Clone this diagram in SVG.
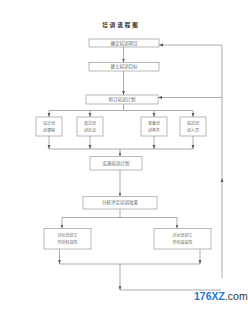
<svg xmlns="http://www.w3.org/2000/svg" width="248" height="316" viewBox="0 0 248 316">
<style>
.bx{fill:#fff;stroke:#9a9a9a;stroke-width:0.7}
.t{font-family:"Liberation Serif","Noto Sans CJK SC",serif;fill:#666;text-anchor:middle}
.s{font-size:4.5px}
.m{font-size:4px}
.ln{fill:none;stroke:#8a8a8a;stroke-width:0.7}
</style>
<defs>
<marker id="ah" markerUnits="userSpaceOnUse" markerWidth="4" markerHeight="4" viewBox="0 0 4 4" refX="4" refY="2" orient="auto">
<path d="M0,0.6 L4,2 L0,3.4 Z" fill="#555"/>
</marker>
</defs>
<rect width="248" height="316" fill="#fff"/>
<text x="121" y="26.5" font-family="Liberation Serif,'Noto Sans CJK SC',serif" font-size="5.5" font-weight="bold" fill="#222" text-anchor="middle" letter-spacing="2">培训流程图</text>
<g id="connectors">
<path class="ln" d="M123.5,47 V62.5" marker-end="url(#ah)"/>
<path class="ln" d="M123.5,71 V95" marker-end="url(#ah)"/>
<path class="ln" d="M123.5,104 V110.5 M49,110.5 H193"/>
<path class="ln" d="M49,110.5 V117" marker-end="url(#ah)"/>
<path class="ln" d="M90,110.5 V117" marker-end="url(#ah)"/>
<path class="ln" d="M154,110.5 V117" marker-end="url(#ah)"/>
<path class="ln" d="M193,110.5 V117" marker-end="url(#ah)"/>
<path class="ln" d="M49,136 V149" marker-end="url(#ah)"/>
<path class="ln" d="M90,136 V149" marker-end="url(#ah)"/>
<path class="ln" d="M154,136 V149" marker-end="url(#ah)"/>
<path class="ln" d="M193,136 V149" marker-end="url(#ah)"/>
<path class="ln" d="M49,149 H193"/>
<path class="ln" d="M120,149 V156.5" marker-end="url(#ah)"/>
<path class="ln" d="M120,170 V196.5" marker-end="url(#ah)"/>
<path class="ln" d="M120,209 V217.5 M62,217.5 H177"/>
<path class="ln" d="M62,217.5 V228.5" marker-end="url(#ah)"/>
<path class="ln" d="M177,217.5 V228.5" marker-end="url(#ah)"/>
<path class="ln" d="M59.5,249 V264" marker-end="url(#ah)"/>
<path class="ln" d="M200,249 V264" marker-end="url(#ah)"/>
<path class="ln" d="M59.5,264 H200"/>
<path class="ln" d="M120,264 V290" marker-end="url(#ah)"/>
<path class="ln" d="M120,290 H221"/>
<path class="ln" d="M222,278 V178" marker-end="url(#ah)"/>
<path class="ln" d="M222,178 V45 H159" marker-end="url(#ah)"/>
<path class="ln" d="M222,97.5 H158" marker-end="url(#ah)"/>
</g>
<g id="n1"><rect class="bx" x="89" y="39" width="70" height="8"/><text class="t s" x="124" y="44.7">确定培训项目</text></g>
<g id="n2"><rect class="bx" x="89" y="62.5" width="70" height="8.5"/><text class="t s" x="124" y="68.4">建立培训目标</text></g>
<g id="n3"><rect class="bx" x="86" y="95" width="72" height="9"/><text class="t s" x="122" y="101.2">拟订培训计划</text></g>
<g id="n4"><rect class="bx" x="36" y="117" width="26" height="19"/><text class="t m" x="49" y="125">设计培</text><text class="t m" x="49" y="131.5">训课程</text></g>
<g id="n5"><rect class="bx" x="77" y="117" width="26" height="19"/><text class="t m" x="90" y="125">选定培</text><text class="t m" x="90" y="131.5">训办法</text></g>
<g id="n6"><rect class="bx" x="141" y="117" width="26" height="19"/><text class="t m" x="154" y="125">准备培</text><text class="t m" x="154" y="131.5">训条件</text></g>
<g id="n7"><rect class="bx" x="180" y="117" width="26" height="19"/><text class="t m" x="193" y="125">指定培</text><text class="t m" x="193" y="131.5">训人员</text></g>
<g id="n8"><rect class="bx" x="90" y="156.5" width="52" height="13.5"/><text class="t s" x="116" y="164.8">实施培训计划</text></g>
<g id="n9"><rect class="bx" x="83" y="196.5" width="74" height="12.5"/><text class="t s" x="120" y="204.3">分析评定培训效果</text></g>
<g id="n10"><rect class="bx" x="44" y="228.5" width="47" height="20.5"/><text class="t m" x="67.5" y="237">评价培训工</text><text class="t m" x="67.5" y="244">作的有效性</text></g>
<g id="n11"><rect class="bx" x="154" y="228.5" width="57" height="20.5"/><text class="t m" x="182.5" y="237">评价培训工</text><text class="t m" x="182.5" y="244">作的效益性</text></g>
<text x="194" y="300" font-family="Liberation Sans,Arial,sans-serif" font-size="10.5"><tspan fill="#2a78cc" font-weight="bold">176XZ</tspan><tspan fill="#333">.com</tspan></text>
</svg>
